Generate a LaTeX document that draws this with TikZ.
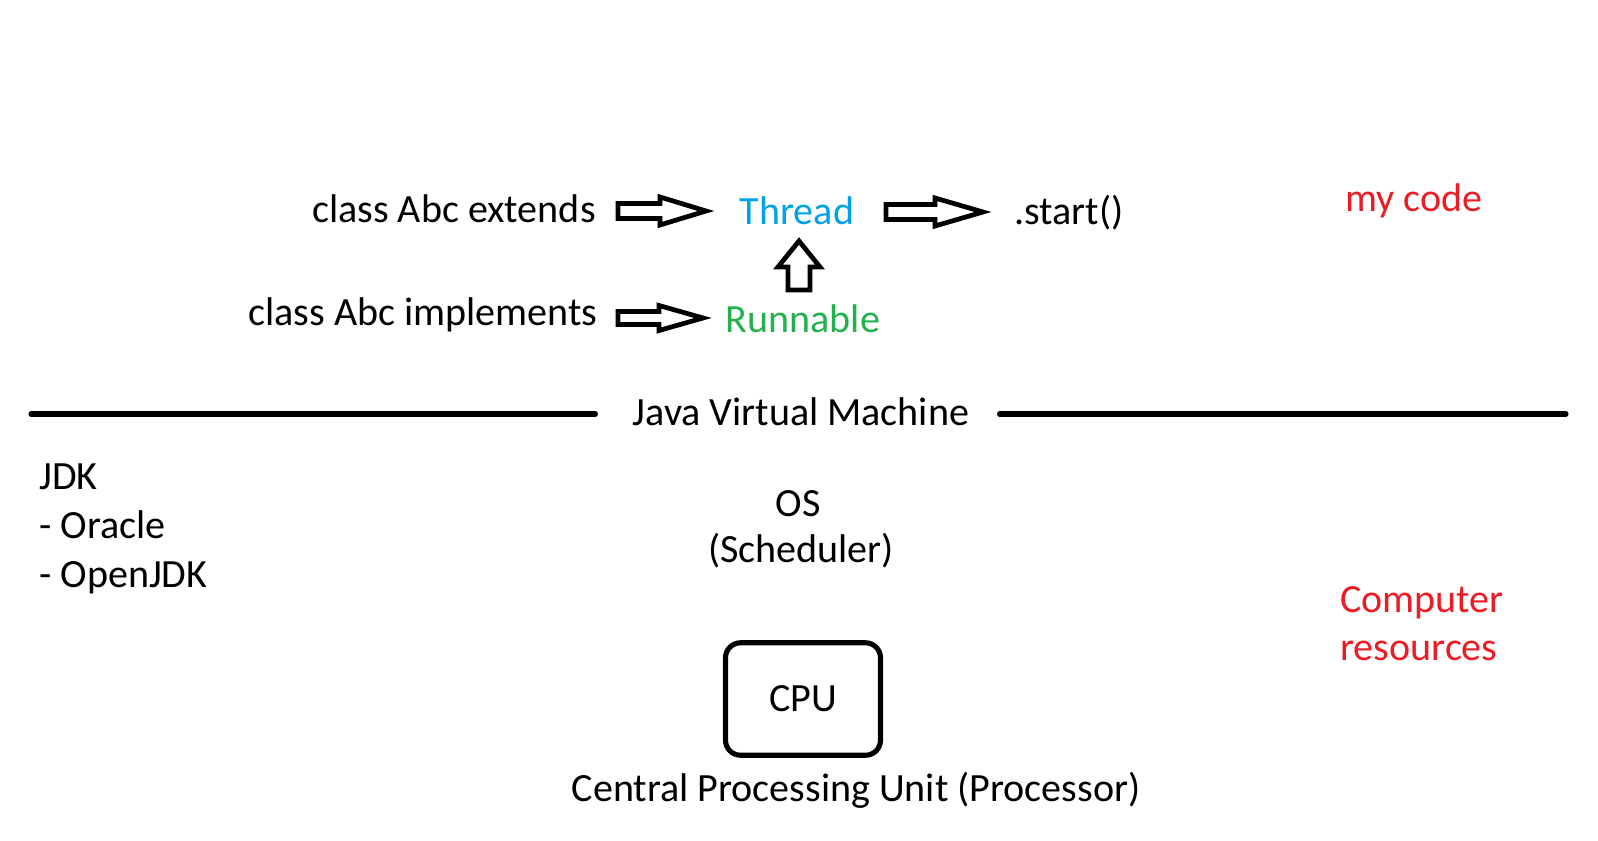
\documentclass[tikz,border=0pt]{standalone}
\usepackage{fontspec}
\setmainfont{Carlito}
\definecolor{threadblue}{RGB}{0,162,232}
\definecolor{runnablegreen}{RGB}{34,177,76}
\definecolor{paintred}{RGB}{237,28,36}
\tikzset{
	txt/.style={inner sep=0pt},
	hline/.style={line width=2.9pt, line cap=round},
	cpubox/.style={draw, line width=2.9pt, rounded corners=0.3cm, minimum width=3.1cm, minimum height=2.25cm, inner sep=0pt},
	pics/blockarrow/.style args={#1/#2/#3/#4}{code={
		\draw[line width=2.7pt, line join=miter] (0,-#3)--(#1-#2,-#3)--(#1-#2,-#4)--(#1,0)--(#1-#2,#4)--(#1-#2,#3)--(0,#3)--cycle;
	}}
}
\begin{document}
\begin{tikzpicture}[x=0.02cm, y=-0.02cm, font=\fontsize{22.8}{27}\selectfont, line join=round]
			\useasboundingbox (0,0) rectangle (1598,841);
			% my code
			\node[txt, anchor=base east] (ext) at (596,222) {class Abc extends};
			\node[txt, anchor=base east] (impl) at (598,325) {class Abc implements};
			\node[txt, anchor=base, text=threadblue] (thread) at (797,224) {Thread};
			\node[txt, anchor=base, text=runnablegreen] (runnable) at (803,332) {Runnable};
			\node[txt, anchor=base west] (start) at (1014,225) {.start()};
			\node[txt, anchor=base west, text=paintred] (mycode) at (1345,212) {my code};
			\pic (extarrow) at (618,211) {blockarrow={88/46/7.5/14}};
			\pic (implarrow) at (618,318) {blockarrow={85/44/6.5/12.5}};
			\pic (startarrow) at (886,212) {blockarrow={97/48/7.5/14}};
			\pic[rotate=90] (uparrow) at (799,290) {blockarrow={49/26/11/21}};
			% jvm
			\node[txt, anchor=base] (jvm) at (801,425) {Java Virtual Machine};
			\coordinate (ll) at (31,414);
			\coordinate (rr) at (1566,414);
			\draw[hline] (ll)--([xshift=-0.74cm]jvm.west |- ll);
			\draw[hline] ([xshift=0.6cm]jvm.east |- rr)--(rr);
			% jdk
			\node[txt, anchor=base west] (jdk) at (39,489) {JDK};
			\node[txt, anchor=base west] (oracle) at (39,538) {- Oracle};
			\node[txt, anchor=base west] (openjdk) at (39,587) {- OpenJDK};
			% os, cpu
			\node[txt, anchor=base] (os) at (798,516) {OS};
			\node[txt, anchor=base] (sched) at (801,562) {(Scheduler)};
			\node[cpubox] (cpu) at (803,699) {CPU};
			\node[txt, anchor=base] (cpuname) at (856,801) {Central Processing Unit (Processor)};
			\node[txt, anchor=base west, text=paintred] (comp) at (1340,612) {Computer};
			\node[txt, anchor=base west, text=paintred] (res) at (1340,660) {resources};
		\end{tikzpicture}
\end{document}
